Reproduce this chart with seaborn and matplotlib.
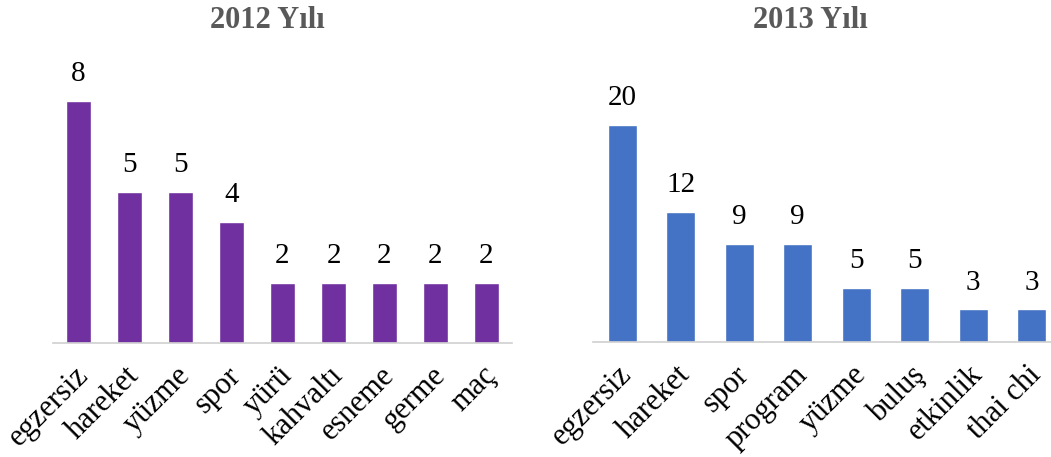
import matplotlib
matplotlib.use("Agg")
import matplotlib.pyplot as plt
import matplotlib.transforms as mtransforms
import seaborn as sns

# Word frequencies per year
words_2012 = ["egzersiz", "hareket", "yüzme", "spor", "yürü", "kahvaltı", "esneme", "germe", "maç"]
counts_2012 = [8, 5, 5, 4, 2, 2, 2, 2, 2]

words_2013 = ["egzersiz", "hareket", "spor", "program", "yüzme", "buluş", "etkinlik", "thai chi"]
counts_2013 = [20, 12, 9, 9, 5, 5, 3, 3]

titles = ["2012 Yılı", "2013 Yılı"]
colors = ["#7030A0", "#4472C4"]

sns.set_theme(style="white")
plt.rcParams["font.family"] = ["Liberation Serif", "DejaVu Serif"]

W, H = 1051, 457
fig = plt.figure(figsize=(W / 100, H / 100), dpi=100)

def axes_px(x0, x1, y_bottom, y_top):
    return fig.add_axes([x0 / W, 1 - y_bottom / H, (x1 - x0) / W, (y_bottom - y_top) / H])

ax1 = axes_px(53, 512, 343, 60)
ax2 = axes_px(593, 1061, 342, 60)

panels = [
    (ax1, words_2012, counts_2012, colors[0], 9.36, 267, titles[0]),
    (ax2, words_2013, counts_2013, colors[1], 26.0, 810, titles[1]),
]

shift = mtransforms.ScaledTranslation(-5 / 100, 0, fig.dpi_scale_trans)

for ax, words, counts, color, ytop, title_x, title in panels:
    sns.barplot(x=words, y=counts, order=words, color=color, width=0.5,
                saturation=1, ax=ax)
    ax.set_ylim(0, ytop)
    ax.set_xlim(-0.5, len(words) - 0.5)
    for c in ax.containers:
        ax.bar_label(c, labels=[str(v) for v in counts], padding=10,
                     fontsize=21, color="#000000")
    for s in ["top", "right", "left"]:
        ax.spines[s].set_visible(False)
    ax.spines["bottom"].set_color("#d0d0d0")
    ax.spines["bottom"].set_linewidth(1.2)
    ax.set_yticks([])
    ax.set_ylabel("")
    ax.set_xlabel("")
    ax.tick_params(axis="x", length=0, pad=13)
    ax.set_xticks(range(len(words)))
    ax.set_xticklabels(words, rotation=45, ha="right", rotation_mode="anchor",
                       fontsize=22, color="#000000")
    for lbl in ax.get_xticklabels():
        lbl.set_transform(lbl.get_transform() + shift)
    fig.text(title_x / W, 1 - 21 / H, title, ha="center", va="center",
             fontsize=22, fontweight="bold", color="#595959")

fig.savefig("out.png", dpi=100)
